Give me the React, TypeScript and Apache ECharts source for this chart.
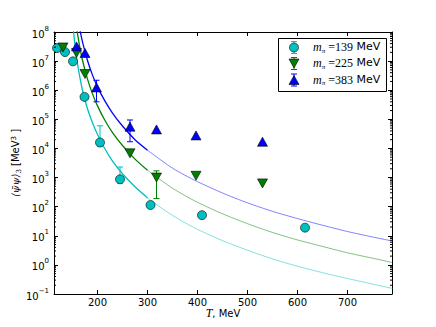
import React, { useEffect, useRef } from "react";
import * as echarts from "echarts";

// ---- data ----
const t139 = [119, 135, 151, 174, 205, 245, 306, 409, 615];
const v139 = [2.8e7, 2.05e7, 9.8e6, 5.9e5, 1.6e4, 870, 114, 51, 19];
const t225 = [131, 158, 175, 265, 318, 397, 530];
const v225 = [2.95e7, 1.9e7, 3.6e6, 6.8e3, 1.0e3, 1.15e3, 630];
const t383 = [158, 175, 198, 265, 318, 397, 530];
const v383 = [3.2e7, 1.9e7, 1.25e6, 5.6e4, 4.5e4, 2.8e4, 1.7e4];

// error bars: [T, low, high]
const err139 = [[205, 1.2e4, 6.0e4], [245, 650, 2.3e3]];
const err225 = [[318, 190, 1.7e3]];
const err383 = [[198, 4.0e5, 2.2e6], [265, 1.7e4, 9.5e4]];

// fit curves (thick part)
const fitT139 = [148, 152, 156, 160, 165, 170, 180, 190, 200, 215, 230, 250, 275, 300];
const fit139 = [8.7e8, 1.1e8, 2.5e7, 8.0e6, 2.6e6, 1.0e6, 2.3e5, 7.6e4, 3.0e4, 9.6e3, 3.7e3, 1.35e3, 480, 200];
const fitT225 = [152, 156, 160, 165, 170, 180, 190, 200, 215, 230, 250, 275, 300];
const fit225 = [1.26e9, 2.8e8, 8.8e7, 2.8e7, 1.07e7, 2.4e6, 7.5e5, 2.9e5, 9.1e4, 3.5e4, 1.26e4, 4.3e3, 1.78e3];
const fitT383 = [156, 160, 165, 170, 180, 190, 200, 215, 230, 250, 275, 300];
const fit383 = [1.15e9, 3.6e8, 1.15e8, 4.6e7, 1.05e7, 3.3e6, 1.3e6, 4.2e5, 1.65e5, 5.9e4, 2.0e4, 8.7e3];
// extrapolated (thin part)
const extT = [300, 325, 350, 375, 400, 450, 500, 550, 600, 650, 700, 750, 790];
const ext139 = [200, 97, 50, 28, 16.6, 6.8, 3.2, 1.6, 0.9, 0.54, 0.34, 0.22, 0.155];
const ext225 = [1.78e3, 860, 430, 240, 141, 57, 26, 13, 7.2, 4.3, 2.6, 1.7, 1.2];
const ext383 = [8.7e3, 4.2e3, 2.1e3, 1.2e3, 720, 295, 135, 69, 39, 23, 14, 9.1, 6.6];

const legendLabels = ["139", "225", "383"];

const X_MIN = 113;
const X_MAX = 789;
const Y_MIN = 0.1;
const Y_MAX = 1e8;

const C_CYAN = "#00bfbf";
const C_GREEN = "#008000";
const C_BLUE = "#0000ff";

const zip = (a: number[], b: number[]) => a.map((x, i) => [x, b[i]]);

const minorTicks: number[] = [];
for (let k = -1; k < 8; k++) for (let m = 2; m <= 9; m++) minorTicks.push(m * Math.pow(10, k));

function errorSeries(data: number[][], color: string) {
  return {
    type: "custom",
    xAxisIndex: 0,
    yAxisIndex: 0,
    data,
    silent: true,
    z: 3,
    encode: { x: 0, y: [1, 2] },
    renderItem: (params: any, api: any) => {
      const x = api.value(0);
      const lo = api.coord([x, api.value(1)]);
      const hi = api.coord([x, api.value(2)]);
      const w = 3;
      const style = { stroke: color, lineWidth: 1 };
      return {
        type: "group",
        children: [
          { type: "line", shape: { x1: lo[0], y1: lo[1], x2: hi[0], y2: hi[1] }, style },
          { type: "line", shape: { x1: lo[0] - w, y1: lo[1], x2: lo[0] + w, y2: lo[1] }, style },
          { type: "line", shape: { x1: hi[0] - w, y1: hi[1], x2: hi[0] + w, y2: hi[1] }, style },
        ],
      };
    },
  };
}

function lineSeries(t: number[], v: number[], color: string, width: number, opacity: number) {
  return {
    type: "line",
    data: zip(t, v),
    showSymbol: false,
    symbol: "none",
    smooth: 0.25,
    clip: true,
    silent: true,
    z: 2,
    lineStyle: { color, width, opacity },
  };
}

function legendEntry(cy: number, color: string, kind: string, label: string) {
  const x = 294;
  const st = { stroke: color, lineWidth: 1 };
  const children: any[] = [
    { type: "line", shape: { x1: x, y1: cy - 6, x2: x, y2: cy + 6 }, style: st },
    { type: "line", shape: { x1: x - 3, y1: cy - 6, x2: x + 3, y2: cy - 6 }, style: st },
    { type: "line", shape: { x1: x - 3, y1: cy + 6, x2: x + 3, y2: cy + 6 }, style: st },
  ];
  const ms = { fill: color, stroke: "#000", lineWidth: 0.6 };
  if (kind === "circle") children.push({ type: "circle", shape: { cx: x, cy, r: 4.5 }, style: ms });
  else if (kind === "up")
    children.push({ type: "polygon", shape: { points: [[x, cy - 4.5], [x - 5, cy + 4.5], [x + 5, cy + 4.5]] }, style: ms });
  else
    children.push({ type: "polygon", shape: { points: [[x, cy + 4.5], [x - 5, cy - 4.5], [x + 5, cy - 4.5]] }, style: ms });
  children.push({
    type: "text",
    x: 313,
    y: cy,
    style: {
      text: `{mi|m}{sub|π}{eq| =${label}}{sans| MeV}`,
      verticalAlign: "middle",
      align: "left",
      rich: {
        mi: { fontFamily: "Liberation Serif", fontStyle: "italic", fontSize: 12, lineHeight: 13, verticalAlign: "top", fill: "#000" },
        sub: { fontFamily: "Liberation Serif", fontStyle: "italic", fontSize: 7, lineHeight: 7, verticalAlign: "bottom", fill: "#000" },
        eq: { fontFamily: "Liberation Serif", fontSize: 12, lineHeight: 13, verticalAlign: "top", fill: "#000" },
        sans: { fontFamily: "DejaVu Sans", fontSize: 11, lineHeight: 13, verticalAlign: "top", fill: "#000" },
      },
    },
  });
  return children;
}

export default function App() {
  const ref = useRef<HTMLDivElement>(null);
  useEffect(() => {
    if (!ref.current) return;
    const chart = echarts.init(ref.current, null, { renderer: "svg" });
    const axisFont = { fontFamily: "DejaVu Sans", fontSize: 10, color: "#000" };
    const option: any = {
      animation: false,
      backgroundColor: "#fff",
      grid: { left: 54, right: 44, top: 32, bottom: 33, containLabel: false, outerBoundsMode: "none" },
      xAxis: [
        {
          type: "value",
          min: X_MIN,
          max: X_MAX,
          splitNumber: 7,
          position: "bottom",
          axisLine: { show: true, onZero: false, lineStyle: { color: "#000", width: 1 } },
          axisTick: { show: true, inside: true, length: 4, lineStyle: { color: "#000" } },
          axisLabel: {
            ...axisFont,
            margin: 3,
            formatter: (v: number) => (Math.abs(v % 100) < 1e-6 ? String(v) : ""),
          },
          splitLine: { show: false },
        },
        {
          type: "value",
          min: X_MIN,
          max: X_MAX,
          splitNumber: 7,
          position: "top",
          axisLine: { show: true, onZero: false, lineStyle: { color: "#000", width: 1 } },
          axisTick: { show: true, inside: true, length: 4, lineStyle: { color: "#000" } },
          axisLabel: { show: false },
          splitLine: { show: false },
        },
      ],
      yAxis: [
        {
          type: "log",
          logBase: 10,
          min: Y_MIN,
          max: Y_MAX,
          position: "left",
          axisLine: { show: true, onZero: false, lineStyle: { color: "#000", width: 1 } },
          axisTick: { show: true, inside: true, length: 4, lineStyle: { color: "#000" } },
          axisLabel: {
            margin: 5,
            formatter: (v: number) => {
              const k = Math.round(Math.log10(v));
              return `{b|10}{s|${k < 0 ? "−" + -k : k}}`;
            },
            rich: {
              b: { fontFamily: "DejaVu Sans", fontSize: 10, color: "#000", lineHeight: 14, verticalAlign: "bottom" },
              s: { fontFamily: "DejaVu Sans", fontSize: 7, color: "#000", lineHeight: 6, verticalAlign: "top" },
            },
          },
          splitLine: { show: false },
        },
        {
          type: "log",
          logBase: 10,
          min: Y_MIN,
          max: Y_MAX,
          position: "right",
          axisLine: { show: true, onZero: false, lineStyle: { color: "#000", width: 1 } },
          axisTick: { show: true, inside: true, length: 4, lineStyle: { color: "#000" } },
          axisLabel: { show: false },
          splitLine: { show: false },
        },
      ],
      graphic: [
        {
          type: "text",
          x: 16,
          y: 163,
          rotation: Math.PI / 2,
          style: {
            text: "{m|⟨ψ̄ψ⟩}{sub|3}{s| [MeV}{sup|3}{s| ]}",
            align: "center",
            verticalAlign: "middle",
            rich: {
              m: { fontFamily: "DejaVu Serif", fontStyle: "italic", fontSize: 10, lineHeight: 12, verticalAlign: "top", fill: "#000" },
              sub: { fontFamily: "DejaVu Serif", fontSize: 7, lineHeight: 6, verticalAlign: "bottom", fill: "#000" },
              s: { fontFamily: "DejaVu Sans", fontSize: 10, lineHeight: 12, verticalAlign: "top", fill: "#000" },
              sup: { fontFamily: "DejaVu Sans", fontSize: 7, lineHeight: 6, verticalAlign: "top", fill: "#000" },
            },
          },
        },
        {
          type: "text",
          x: 223,
          y: 313,
          style: {
            text: "{i|T}{s|, MeV}",
            align: "center",
            verticalAlign: "middle",
            rich: {
              i: { fontFamily: "Liberation Serif", fontStyle: "italic", fontSize: 12, fill: "#000" },
              s: { fontFamily: "DejaVu Sans", fontSize: 10, fill: "#000" },
            },
          },
        },
        {
          type: "group",
          children: [
            {
              type: "rect",
              shape: { x: 278.5, y: 38.5, width: 108, height: 53 },
              style: { fill: "#fff", stroke: "#000", lineWidth: 1 },
            },
            ...legendEntry(47.5, C_CYAN, "circle", legendLabels[0]),
            ...legendEntry(63.5, C_GREEN, "down", legendLabels[1]),
            ...legendEntry(80, C_BLUE, "up", legendLabels[2]),
          ],
        },
      ],
      series: [
        lineSeries(fitT139, fit139, C_CYAN, 1.3, 1),
        lineSeries(fitT225, fit225, C_GREEN, 1.3, 1),
        lineSeries(fitT383, fit383, C_BLUE, 1.3, 1),
        lineSeries(extT, ext139, C_CYAN, 0.9, 0.55),
        lineSeries(extT, ext225, C_GREEN, 0.9, 0.55),
        lineSeries(extT, ext383, C_BLUE, 0.9, 0.55),
        {
          type: "custom",
          data: minorTicks.map((v) => [X_MIN, v]),
          silent: true,
          z: 5,
          renderItem: (params: any, api: any) => {
            const v = api.value(1);
            const l = api.coord([X_MIN, v]);
            const r = api.coord([X_MAX, v]);
            const st = { stroke: "#000", lineWidth: 1 };
            return {
              type: "group",
              children: [
                { type: "line", shape: { x1: l[0], y1: l[1], x2: l[0] + 2, y2: l[1] }, style: st },
                { type: "line", shape: { x1: r[0] - 2, y1: r[1], x2: r[0], y2: r[1] }, style: st },
              ],
            };
          },
        },
        errorSeries(err139, C_CYAN),
        errorSeries(err225, C_GREEN),
        errorSeries(err383, C_BLUE),
        {
          type: "scatter",
          data: zip(t139, v139),
          symbol: "circle",
          symbolSize: 9,
          z: 4,
          itemStyle: { color: C_CYAN, borderColor: "#000", borderWidth: 0.6, opacity: 1 },
        },
        {
          type: "scatter",
          data: zip(t225, v225),
          symbol: "triangle",
          symbolRotate: 180,
          symbolSize: [10, 9],
          z: 4,
          itemStyle: { color: C_GREEN, borderColor: "#000", borderWidth: 0.6, opacity: 1 },
        },
        {
          type: "scatter",
          data: zip(t383, v383),
          symbol: "triangle",
          symbolSize: [10, 9],
          z: 4,
          itemStyle: { color: C_BLUE, borderColor: "#000", borderWidth: 0.6, opacity: 1 },
        },
      ],
    };
    chart.setOption(option);
    return () => chart.dispose();
  }, []);
  return (
    <div
      ref={ref}
      style={{ position: "absolute", left: 0, top: 0, width: 436, height: 327, background: "#fff" }}
    />
  );
}
